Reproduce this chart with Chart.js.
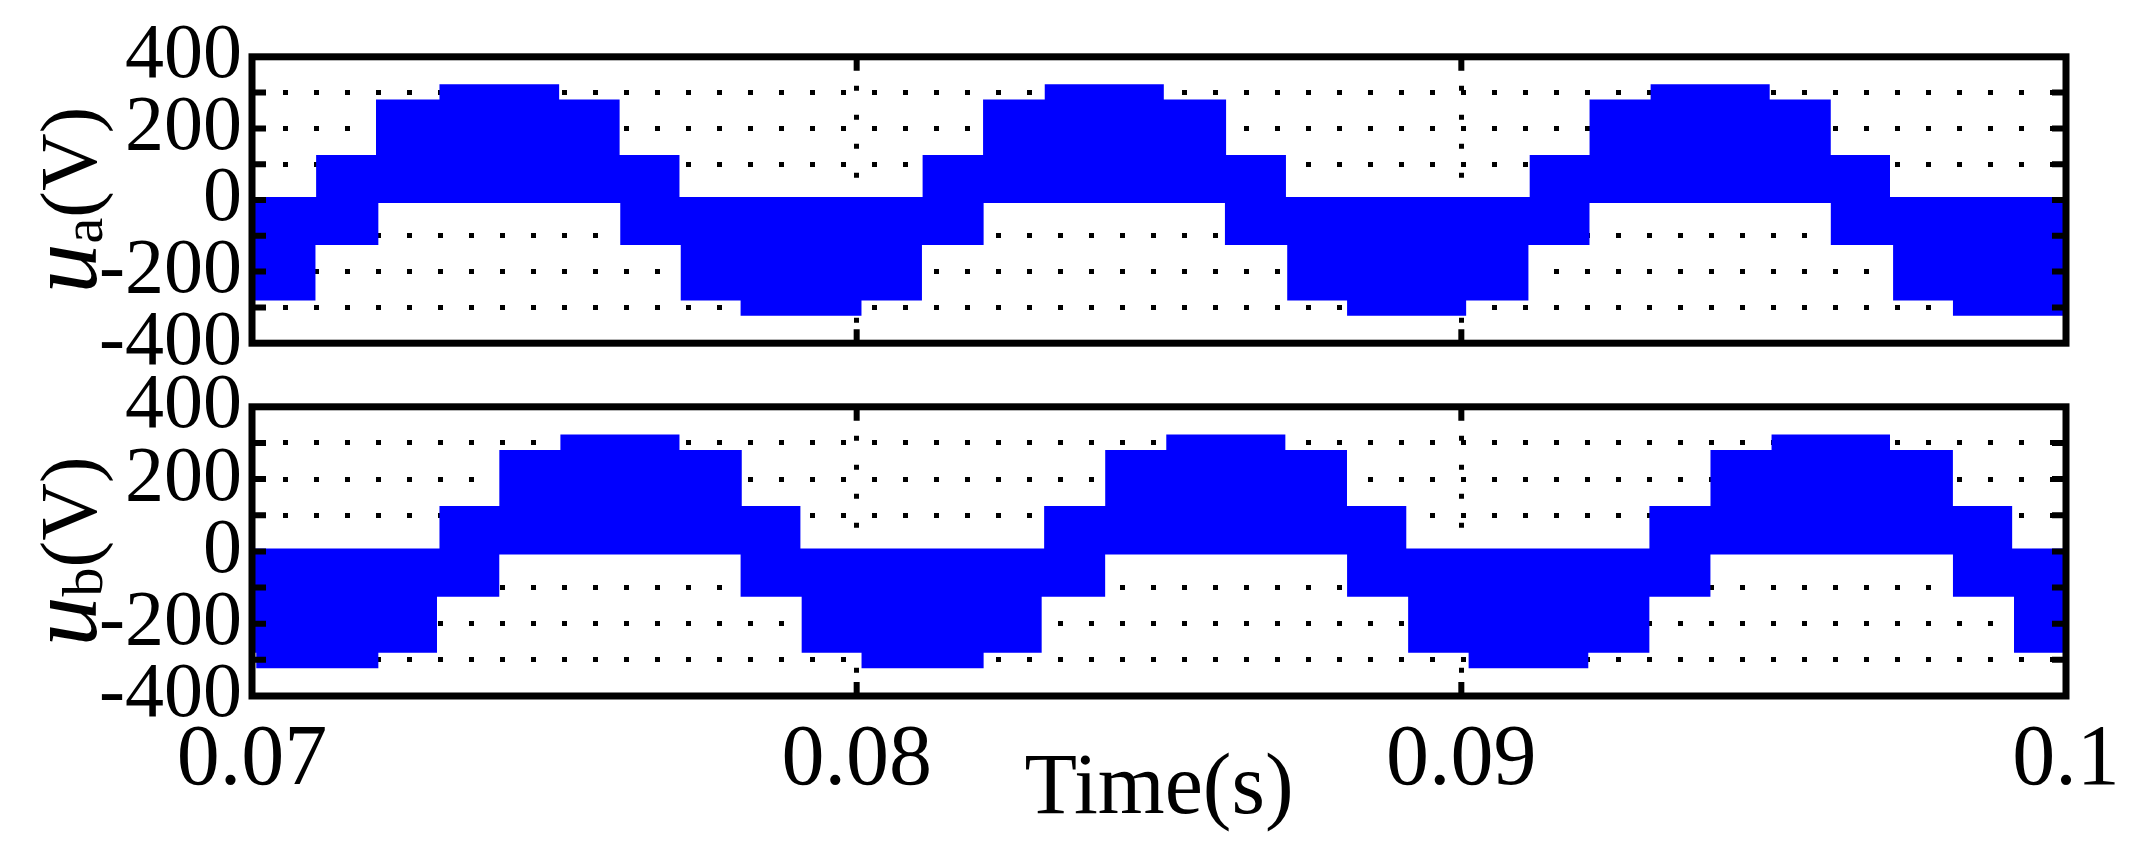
<!DOCTYPE html>
<html>
<head>
<meta charset="utf-8">
<script src="https://cdn.jsdelivr.net/npm/chart.js@4"></script>
<style>
  body { margin: 0; background: #fff; }
  canvas { position: absolute; left: 0; }
</style>
</head>
<body>
<canvas id="cA" width="2153" height="400" style="top:0"></canvas>
<canvas id="cB" width="2153" height="496" style="top:350px"></canvas>
<script>
// tiempos (s) donde cambia el nivel, y el nivel desde ese instante
const uaUpT = [0.07, 0.07111, 0.07210, 0.07315, 0.07503, 0.07603, 0.07702, 0.08114, 0.08214, 0.08316, 0.08503, 0.08606, 0.08705, 0.09118, 0.09217, 0.09318, 0.09505, 0.09606, 0.09704]
const uaUpV = [0, 117, 272, 315, 272, 117, 0, 117, 272, 315, 272, 117, 0, 117, 272, 315, 272, 117, 0]
const uaLoT = [0.07, 0.07100, 0.07204, 0.07614, 0.07714, 0.07813, 0.08003, 0.08103, 0.08205, 0.08614, 0.08717, 0.08816, 0.09003, 0.09106, 0.09207, 0.09616, 0.09719, 0.09818]
const uaLoV = [-272, -117, 0, -117, -272, -315, -272, -117, 0, -117, -272, -315, -272, -117, 0, -117, -272, -315]

const ubUpT = [0.07, 0.07315, 0.07414, 0.07515, 0.07702, 0.07805, 0.07902, 0.08315, 0.08416, 0.08517, 0.08704, 0.08806, 0.08904, 0.09316, 0.09417, 0.09518, 0.09704, 0.09808, 0.09906]
const ubUpV = [0, 117, 272, 315, 272, 117, 0, 117, 272, 315, 272, 117, 0, 117, 272, 315, 272, 117, 0]
const ubLoT = [0.07, 0.07012, 0.07204, 0.07301, 0.07404, 0.07813, 0.07914, 0.08013, 0.08205, 0.08301, 0.08406, 0.08816, 0.08917, 0.09017, 0.09205, 0.09306, 0.09407, 0.09818, 0.09919]
const ubLoV = [-272, -315, -272, -117, 0, -117, -272, -315, -272, -117, 0, -117, -272, -315, -272, -117, 0, -117, -272]

const xTicks = [0.07, 0.08, 0.09, 0.1]
const yLabels = [-400, -200, 0, 200, 400]

const azul = '#0000ff'
const fuente = '"Liberation Serif", "DejaVu Serif", serif'

function puntos(ts, vs) { // pares x,y y cierre en 0.1
  const p = ts.map((t, i) => ({x: t, y: vs[i]}))
  p.push({x: 0.1, y: vs[vs.length - 1]})
  return p
}

const marco = { // borde negro y marcas de escala hacia dentro
  id: 'marco',
  afterDraw(chart) {
    const c = chart.ctx, a = chart.chartArea
    const y = chart.scales.y, x = chart.scales.x
    c.save()
    c.strokeStyle = '#000'
    c.lineWidth = 6
    c.beginPath()
    for (let v = -300; v <= 300; v += 100) {
      const py = y.getPixelForValue(v)
      c.moveTo(a.left, py); c.lineTo(a.left + 14, py)
      c.moveTo(a.right, py); c.lineTo(a.right - 14, py)
    }
    for (const t of [0.08, 0.09]) {
      const px = x.getPixelForValue(t)
      c.moveTo(px, a.top); c.lineTo(px, a.top + 14)
      c.moveTo(px, a.bottom); c.lineTo(px, a.bottom - 14)
    }
    c.stroke()
    c.lineWidth = 7
    c.strokeRect(a.left, a.top, a.right - a.left, a.bottom - a.top)
    // etiqueta del eje y
    const sub = chart.options.plugins.marco.sub
    c.translate(66, (a.top + a.bottom) / 2)
    c.rotate(-Math.PI / 2)
    c.fillStyle = '#000'
    c.textBaseline = 'alphabetic'
    c.font = 'italic 100px ' + fuente
    const w1 = c.measureText('u').width
    c.font = '58px ' + fuente
    const w2 = c.measureText(sub).width
    c.font = '80px ' + fuente
    const w3 = c.measureText('(V)').width
    let px = -(w1 + w2 + w3) / 2
    c.font = 'italic 100px ' + fuente
    c.fillText('u', px, 30); px += w1
    c.font = '58px ' + fuente
    c.fillText(sub, px, 36); px += w2
    c.font = '80px ' + fuente
    c.fillText('(V)', px, 30)
    c.restore()
  }
}

function hacer(id, up, lo, sub, conEjeX, pad) {
  new Chart(document.getElementById(id), {
    type: 'line',
    data: {
      datasets: [
        {data: up, borderColor: azul, backgroundColor: azul, borderWidth: 6, stepped: true, pointRadius: 0, fill: '+1'},
        {data: lo, borderColor: azul, backgroundColor: azul, borderWidth: 6, stepped: true, pointRadius: 0, fill: false}
      ]
    },
    options: {
      responsive: false,
      animation: false,
      devicePixelRatio: 1,
      layout: {padding: pad},
      plugins: {legend: {display: false}, tooltip: {enabled: false}, marco: {sub: sub}},
      scales: {
        x: {
          type: 'linear', min: 0.07, max: 0.1,
          afterBuildTicks: s => { s.ticks = xTicks.map(v => ({value: v})) },
          afterFit: s => { s.height = conEjeX ? 150 : 0 },
          grid: {
            drawTicks: false, lineWidth: 5,
            color: c => (c.tick && (c.tick.value === 0.08 || c.tick.value === 0.09)) ? '#000' : 'rgba(0,0,0,0)'
          },
          border: {display: false, dash: [5, 24]},
          ticks: {
            display: conEjeX, autoSkip: false, padding: 14, maxRotation: 0, color: '#000',
            font: {family: fuente, size: 86},
            callback: v => String(Math.round(v * 100) / 100)
          },
          title: {display: conEjeX, text: 'Time(s)', color: '#000', padding: {top: -18}, font: {family: fuente, size: 86}}
        },
        y: {
          min: -400, max: 400,
          ticks: {
            stepSize: 100, autoSkip: false, padding: 10, color: '#000',
            font: {family: fuente, size: 78},
            callback: v => yLabels.includes(v) ? String(v) : ''
          },
          afterFit: s => { s.width = 252 },
          grid: {
            drawTicks: false, lineWidth: 5,
            color: c => Math.abs(c.tick.value) < 400 && c.tick.value !== 0 ? '#000' : 'rgba(0,0,0,0)'
          },
          border: {display: false, dash: [5, 26]}
        }
      }
    },
    plugins: [marco]
  })
}

hacer('cA', puntos(uaUpT, uaUpV), puntos(uaLoT, uaLoV), 'a', false, {top: 43, right: 87, bottom: 52, left: 0})
hacer('cB', puntos(ubUpT, ubUpV), puntos(ubLoT, ubLoV), 'b', true, {top: 44, right: 87, bottom: 0, left: 0})
</script>
</body>
</html>
